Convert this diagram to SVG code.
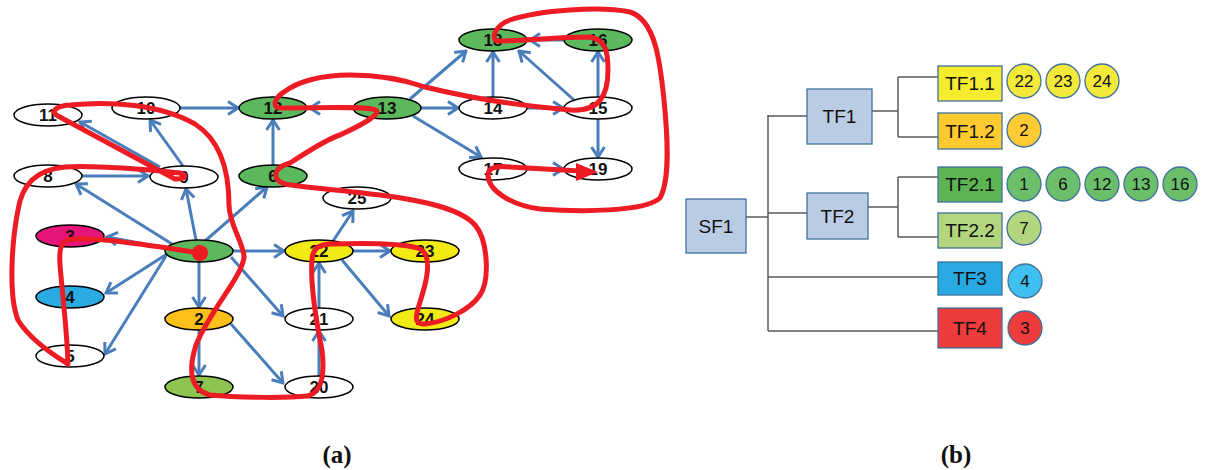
<svg xmlns="http://www.w3.org/2000/svg" width="1216" height="470" viewBox="0 0 1216 470">
<style>
.n{stroke:#000;stroke-width:1.5}
.w{fill:#fff}.g{fill:#5CB85C}.y{fill:#F2EA14}.o{fill:#FDBF18}.m{fill:#E5157A}.b{fill:#29ABE2}.lg{fill:#8DC34F}
.t{font-family:"Liberation Sans",Arial,sans-serif;font-size:17px;font-weight:bold;text-anchor:middle;fill:#111}
.e{stroke:#4A7EBB;stroke-width:3;fill:none;marker-end:url(#ah)}
.red{stroke:#ED1C24;stroke-width:5;fill:none;stroke-linecap:round;stroke-linejoin:round}
.bx{stroke:#41719C;stroke-width:1.3}
.bt{font-family:"Liberation Sans",Arial,sans-serif;font-size:19px;text-anchor:middle;fill:#111}
.ct{font-family:"Liberation Sans",Arial,sans-serif;font-size:17px;text-anchor:middle;fill:#111}
.tl{stroke:#595959;stroke-width:1.5;fill:none}
.cap{font-family:"Liberation Serif","Times New Roman",serif;font-size:25px;font-weight:bold;text-anchor:middle;fill:#111}
</style>
<defs>
<marker id="ah" viewBox="0 0 14 16" refX="12" refY="8" markerWidth="14" markerHeight="16" markerUnits="userSpaceOnUse" orient="auto">
<path d="M2,1.5 L12,8 L2,14.5" fill="none" stroke="#4A7EBB" stroke-width="3"/>
</marker>
</defs>
<g id="edges">
<line class="e" x1="180" y1="108" x2="238" y2="108"/>
<line class="e" x1="183" y1="166" x2="150" y2="120"/>
<line class="e" x1="160" y1="167" x2="80" y2="122"/>
<line class="e" x1="82" y1="176" x2="148" y2="176"/>
<line class="e" x1="172" y1="244" x2="76" y2="184"/>
<line class="e" x1="196" y1="240" x2="186" y2="189"/>
<line class="e" x1="205" y1="241" x2="267" y2="187"/>
<line class="e" x1="273" y1="165" x2="273" y2="120"/>
<line class="e" x1="353" y1="108" x2="310" y2="108"/>
<line class="e" x1="421" y1="108" x2="458" y2="108"/>
<line class="e" x1="410" y1="99" x2="466" y2="51"/>
<line class="e" x1="413" y1="116" x2="481" y2="157"/>
<line class="e" x1="493" y1="97" x2="493" y2="52"/>
<line class="e" x1="527" y1="108" x2="563" y2="108"/>
<line class="e" x1="574" y1="100" x2="519" y2="51"/>
<line class="e" x1="598" y1="97" x2="598" y2="52"/>
<line class="e" x1="564" y1="40" x2="530" y2="40"/>
<line class="e" x1="598" y1="119" x2="598" y2="157"/>
<line class="e" x1="527" y1="169" x2="563" y2="169"/>
<line class="e" x1="166" y1="248" x2="107" y2="237"/>
<line class="e" x1="167" y1="254" x2="106" y2="293"/>
<line class="e" x1="166" y1="256" x2="105" y2="354"/>
<line class="e" x1="199" y1="262" x2="199" y2="307"/>
<line class="e" x1="199" y1="330" x2="199" y2="375"/>
<line class="e" x1="231" y1="324" x2="283" y2="383"/>
<line class="e" x1="233" y1="251" x2="284" y2="251"/>
<line class="e" x1="231" y1="257" x2="283" y2="316"/>
<line class="e" x1="319" y1="376" x2="319" y2="331"/>
<line class="e" x1="319" y1="308" x2="319" y2="263"/>
<line class="e" x1="333" y1="241" x2="353" y2="211"/>
<line class="e" x1="353" y1="251" x2="390" y2="251"/>
<line class="e" x1="342" y1="260" x2="389" y2="316"/>
</g>
<g id="n1"><ellipse class="n g" cx="199" cy="251" rx="34" ry="11"/><text class="t" x="199" y="257">1</text></g>
<g id="n2"><ellipse class="n o" cx="199" cy="319" rx="34" ry="11"/><text class="t" x="199" y="325">2</text></g>
<g id="n3"><ellipse class="n m" cx="70" cy="236" rx="34" ry="11"/><text class="t" x="70" y="242">3</text></g>
<g id="n4"><ellipse class="n b" cx="70" cy="297" rx="34" ry="11"/><text class="t" x="70" y="303">4</text></g>
<g id="n5"><ellipse class="n w" cx="70" cy="356" rx="34" ry="11"/><text class="t" x="70" y="362">5</text></g>
<g id="n6"><ellipse class="n g" cx="273" cy="176" rx="34" ry="11"/><text class="t" x="273" y="182">6</text></g>
<g id="n7"><ellipse class="n lg" cx="199" cy="387" rx="34" ry="11"/><text class="t" x="199" y="393">7</text></g>
<g id="n8"><ellipse class="n w" cx="48" cy="176" rx="34" ry="11"/><text class="t" x="48" y="182">8</text></g>
<g id="n9"><ellipse class="n w" cx="184" cy="177" rx="34" ry="11"/><text class="t" x="184" y="183">9</text></g>
<g id="n10"><ellipse class="n w" cx="146" cy="108" rx="34" ry="11"/><text class="t" x="146" y="114">10</text></g>
<g id="n11"><ellipse class="n w" cx="48" cy="115" rx="34" ry="11"/><text class="t" x="48" y="121">11</text></g>
<g id="n12"><ellipse class="n g" cx="273" cy="108" rx="34" ry="11"/><text class="t" x="273" y="114">12</text></g>
<g id="n13"><ellipse class="n g" cx="387" cy="108" rx="34" ry="11"/><text class="t" x="387" y="114">13</text></g>
<g id="n14"><ellipse class="n w" cx="493" cy="108" rx="34" ry="11"/><text class="t" x="493" y="114">14</text></g>
<g id="n15"><ellipse class="n w" cx="598" cy="108" rx="34" ry="11"/><text class="t" x="598" y="114">15</text></g>
<g id="n16"><ellipse class="n g" cx="598" cy="40" rx="34" ry="11"/><text class="t" x="598" y="46">16</text></g>
<g id="n17"><ellipse class="n w" cx="493" cy="169" rx="34" ry="11"/><text class="t" x="493" y="175">17</text></g>
<g id="n18"><ellipse class="n g" cx="493" cy="40" rx="34" ry="11"/><text class="t" x="493" y="46">18</text></g>
<g id="n19"><ellipse class="n w" cx="598" cy="169" rx="34" ry="11"/><text class="t" x="598" y="175">19</text></g>
<g id="n20"><ellipse class="n w" cx="319" cy="387" rx="34" ry="11"/><text class="t" x="319" y="393">20</text></g>
<g id="n21"><ellipse class="n w" cx="319" cy="319" rx="34" ry="11"/><text class="t" x="319" y="325">21</text></g>
<g id="n22"><ellipse class="n y" cx="319" cy="251" rx="34" ry="11"/><text class="t" x="319" y="257">22</text></g>
<g id="n23"><ellipse class="n y" cx="425" cy="251" rx="34" ry="11"/><text class="t" x="425" y="257">23</text></g>
<g id="n24"><ellipse class="n y" cx="425" cy="319" rx="34" ry="11"/><text class="t" x="425" y="325">24</text></g>
<g id="n25"><ellipse class="n w" cx="357" cy="198" rx="34" ry="11"/><text class="t" x="357" y="204">25</text></g>
<g id="route">
<path class="red" d="M200,253 C160,247 100,237 72,239 C60,240 59,250 60,265 C62,290 67,330 68,364 C55,356 30,340 18,320 C8,295 12,240 18,210 C22,185 35,170 65,167 C100,165 150,170 180,173 C188,175 186,179 175,179 L58,116 C50,112 55,106 70,105 C110,101 160,104 195,124 C220,140 229,170 229,205 C229,225 245,245 244,258 C240,280 210,310 196,345 C188,370 190,390 210,395 C240,398 290,398 307,396 C322,393 325,375 322,350 C316,320 310,285 312,260 C313,248 318,245 330,244 C360,243 400,243 418,248 C432,253 428,275 423,292 C418,310 410,325 425,324 C445,322 470,310 480,295 C490,280 488,240 475,225 C460,208 420,200 380,195 C340,190 300,187 285,184 C272,180 272,168 290,163 C310,150 330,138 340,135 C355,128 382,115 376,110 C365,106 320,108 280,108 C272,108 274,98 284,92 C297,82 320,75 350,75 C380,75 405,80 425,87 C470,98 520,106 570,110 C600,112 608,95 608,70 C608,50 605,40 590,37 C560,37 520,41 498,41 C490,40 495,25 510,20 C540,10 600,6 630,12 C655,20 660,60 664,100 C668,140 670,180 660,198 C645,212 580,212 540,209 C510,205 488,190 488,175 C488,166 500,166 510,167 L580,171"/>
<polygon points="598,172 576,163 576,181" fill="#ED1C24"/>
<circle cx="200" cy="253" r="8" fill="#ED1C24"/>
</g>
<g id="tree-lines">
<path class="tl" d="M746,217 H768 M768,115 V331 M768,116 H807 M768,213 H807 M768,277 H938 M768,331 H938 M872,111 H898 M898,77 V137 M898,77 H938 M898,137 H938 M868,207 H898 M898,177 V237 M898,177 H938 M898,237 H938"/>
</g>
<g id="SF1"><rect class="bx" x="686" y="199" width="60" height="54" fill="#BACBE4"/><text class="bt" x="716" y="233">SF1</text></g>
<g id="TF1"><rect class="bx" x="807" y="89" width="65" height="55" fill="#BACBE4"/><text class="bt" x="839.5" y="123">TF1</text></g>
<g id="TF2"><rect class="bx" x="807" y="193" width="61" height="46" fill="#BACBE4"/><text class="bt" x="837.5" y="223">TF2</text></g>
<g id="TF1.1"><rect class="bx" x="938" y="66" width="64" height="35" fill="#F5EC2F"/><text class="bt" x="970" y="90">TF1.1</text></g>
<g id="TF1.2"><rect class="bx" x="938" y="113" width="64" height="36" fill="#FFCA2F"/><text class="bt" x="970" y="138">TF1.2</text></g>
<g id="TF2.1"><rect class="bx" x="938" y="167" width="64" height="35" fill="#5DB452"/><text class="bt" x="970" y="191">TF2.1</text></g>
<g id="TF2.2"><rect class="bx" x="938" y="213" width="64" height="35" fill="#B3D57E"/><text class="bt" x="970" y="237">TF2.2</text></g>
<g id="TF3"><rect class="bx" x="938" y="262" width="64" height="33" fill="#28A9E1"/><text class="bt" x="970" y="285">TF3</text></g>
<g id="TF4"><rect class="bx" x="938" y="308" width="64" height="40" fill="#EE3B3B"/><text class="bt" x="970" y="335">TF4</text></g>
<g id="c22"><circle class="bx" cx="1024" cy="81" r="17" fill="#F3E93A"/><text class="ct" x="1024" y="87">22</text></g>
<g id="c23"><circle class="bx" cx="1063" cy="81" r="17" fill="#F3E93A"/><text class="ct" x="1063" y="87">23</text></g>
<g id="c24"><circle class="bx" cx="1102" cy="81" r="17" fill="#F3E93A"/><text class="ct" x="1102" y="87">24</text></g>
<g id="c2"><circle class="bx" cx="1024" cy="130" r="17" fill="#FFCB35"/><text class="ct" x="1024" y="136">2</text></g>
<g id="c1"><circle class="bx" cx="1024" cy="184" r="17" fill="#6BBF6B"/><text class="ct" x="1024" y="190">1</text></g>
<g id="c6"><circle class="bx" cx="1063" cy="184" r="17" fill="#6BBF6B"/><text class="ct" x="1063" y="190">6</text></g>
<g id="c12"><circle class="bx" cx="1102" cy="184" r="17" fill="#6BBF6B"/><text class="ct" x="1102" y="190">12</text></g>
<g id="c13"><circle class="bx" cx="1141" cy="184" r="17" fill="#6BBF6B"/><text class="ct" x="1141" y="190">13</text></g>
<g id="c16"><circle class="bx" cx="1180" cy="184" r="17" fill="#6BBF6B"/><text class="ct" x="1180" y="190">16</text></g>
<g id="c7"><circle class="bx" cx="1024" cy="228" r="17" fill="#B3D57E"/><text class="ct" x="1024" y="234">7</text></g>
<g id="c4"><circle class="bx" cx="1025" cy="281" r="17" fill="#3FC0F0"/><text class="ct" x="1025" y="287">4</text></g>
<g id="c3"><circle class="bx" cx="1025" cy="328" r="17" fill="#EE3B3B"/><text class="ct" x="1025" y="334">3</text></g>
<text class="cap" x="337" y="463">(a)</text>
<text class="cap" x="956" y="463">(b)</text>
</svg>
